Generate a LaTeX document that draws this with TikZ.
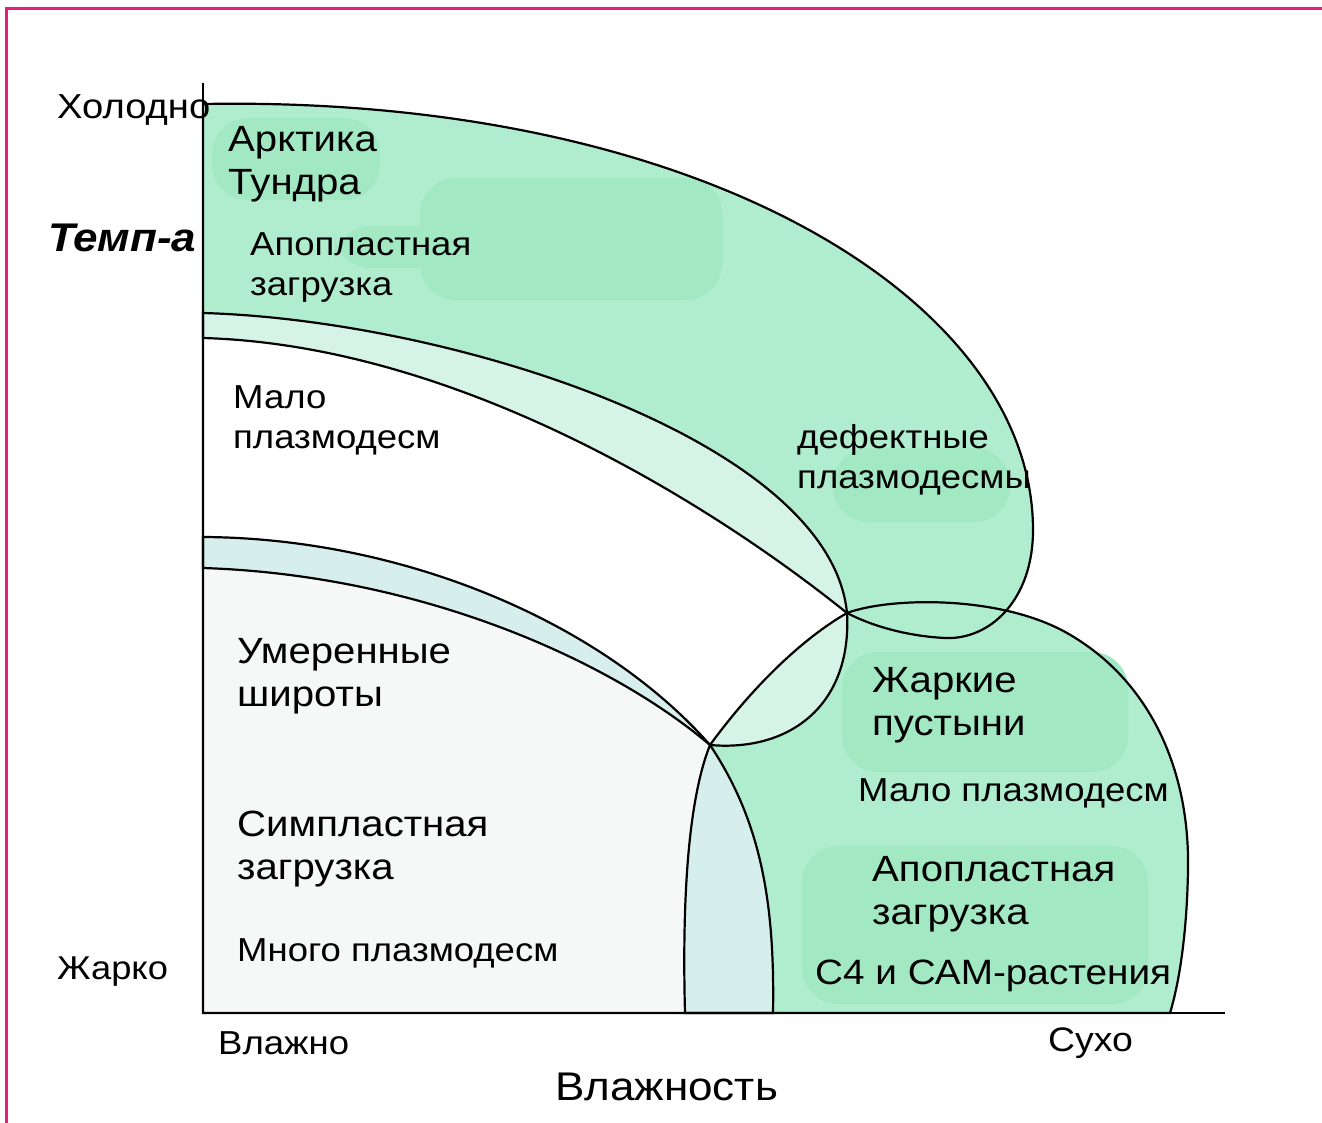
\documentclass[tikz,border=0pt]{standalone}
\usepackage{fontspec}
\setmainfont{Liberation Sans}[FakeStretch=1.1]
\usetikzlibrary{positioning}

\definecolor{framepink}{RGB}{226,32,120}
\definecolor{mint}{RGB}{176,236,206}
\definecolor{mintdark}{RGB}{162,232,195}
\definecolor{mintpale}{RGB}{214,243,231}
\definecolor{bluepale}{RGB}{214,238,236}
\definecolor{greypale}{RGB}{246,248,248}

% zones, in picture units
\newcommand{\coldzone}{(203,104) .. controls (700,95) and (1033,300) .. (1033,530)
  .. controls (1033,600) and (990,640) .. (945,638)
  .. controls (905,636) and (870,625) .. (847,613)
  .. controls (700,495) and (450,345) .. (203,338) -- cycle}
\newcommand{\midzone}{(203,313) .. controls (450,320) and (830,440) .. (847,613)
  .. controls (852,705) and (790,752) .. (710,745)
  .. controls (610,660) and (420,575) .. (203,568) -- cycle}
\newcommand{\warmzone}{(203,537) .. controls (400,538) and (600,620) .. (710,745)
  .. controls (760,820) and (775,900) .. (773,1013) -- (203,1013) -- cycle}
\newcommand{\desertzone}{(685,1013) .. controls (682,900) and (688,800) .. (710,745)
  .. controls (750,690) and (800,640) .. (847,613)
  .. controls (890,597) and (1000,595) .. (1067,633)
  .. controls (1150,680) and (1190,770) .. (1188,870)
  .. controls (1187,930) and (1180,980) .. (1170,1013) -- cycle}

\begin{document}
\begin{tikzpicture}[x=1pt,y=-1pt,
    zone/.style={draw=black, line width=2.2pt},
    axisline/.style={draw=black, line width=2.2pt},
    blob/.style={fill=mintdark, rounded corners=36pt},
    axislbl/.style={anchor=west, inner sep=0pt,
        font=\fontsize{34}{40}\selectfont},
    lbl/.style={anchor=west, inner sep=0pt, align=left,
        font=\fontsize{36.5}{43}\selectfont},
    lblsm/.style={anchor=west, inner sep=0pt, align=left,
        font=\fontsize{33.2}{40}\selectfont}]
    \useasboundingbox (0,0) rectangle (1322,1123);

    % frame
    \draw[framepink, line width=3pt] (1322,9) -- (6,9) -- (6,1123);

    % regions
    \fill[greypale] \warmzone;
    \fill[white] \midzone;
    \fill[mint] \coldzone;
    \fill[mint] \desertzone;
    \begin{scope}
        \clip \midzone;
        \fill[mintpale] \coldzone;
        \fill[mintpale] \desertzone;
    \end{scope}
    \begin{scope}
        \clip \warmzone;
        \fill[bluepale] \midzone;
        \fill[bluepale] \desertzone;
    \end{scope}

    % darker patches behind the labels
    \fill[blob] (212,118) rectangle (380,200);
    \fill[blob] (420,178) rectangle (722,300);
    \fill[blob] (335,226) rectangle (470,268);
    \fill[blob] (833,448) rectangle (1010,522);
    \fill[blob] (842,652) rectangle (1128,772);
    \fill[blob] (802,846) rectangle (1148,1004);

    % outlines
    \draw[zone] \coldzone;
    \draw[zone] \midzone;
    \draw[zone] \warmzone;
    \draw[zone] \desertzone;

    % axes
    \coordinate (top) at (203,83);
    \coordinate (origin) at (203,1013);
    \coordinate (right) at (1225,1013);
    \draw[axisline] (top) -- (origin) -- (right);

    % axis labels
    \node[axislbl, font=\fontsize{34.7}{40}\selectfont] (cold) at (57,110) {Холодно};
    \node[axislbl, font=\fontsize{40}{44}\selectfont\bfseries\itshape] (temp) at (48,238) {Темп-а};
    \node[axislbl, font=\fontsize{33}{40}\selectfont] (hot) at (57,972) {Жарко};
    \node[axislbl, font=\fontsize{33.2}{40}\selectfont] (wet) at (218,1043) {Влажно};
    \node[axislbl] (dry) at (1048,1043) {Сухо};
    \node[axislbl, font=\fontsize{40}{44}\selectfont] (humidity) at (555,1087) {Влажность};

    % zone labels
    \node[lbl] (arctic) at (228,164) {Арктика\\Тундра};
    \node[lblsm] (apoUp) at (250,268) {Апопластная\\загрузка};
    \node[lblsm] (fewUp) at (233,420) {Мало\\плазмодесм};
    \node[lblsm] (defect) at (797,460) {дефектные\\плазмодесмы};
    \node[lbl] (temperate) at (237,676) {Умеренные\\широты};
    \node[lbl] (symp) at (237,849) {Симпластная\\загрузка};
    \node[lblsm] (many) at (237,953) {Много плазмодесм};
    \node[lbl] (desert) at (872,705) {Жаркие\\пустыни};
    \node[lblsm] (fewDown) at (858,793) {Мало плазмодесм};
    \node[lbl] (apoDown) at (872,894) {Апопластная\\загрузка};
    \node[lbl, font=\fontsize{35.2}{43}\selectfont] (cfour) at (815,976) {С4 и САМ-растения};
\end{tikzpicture}
\end{document}
